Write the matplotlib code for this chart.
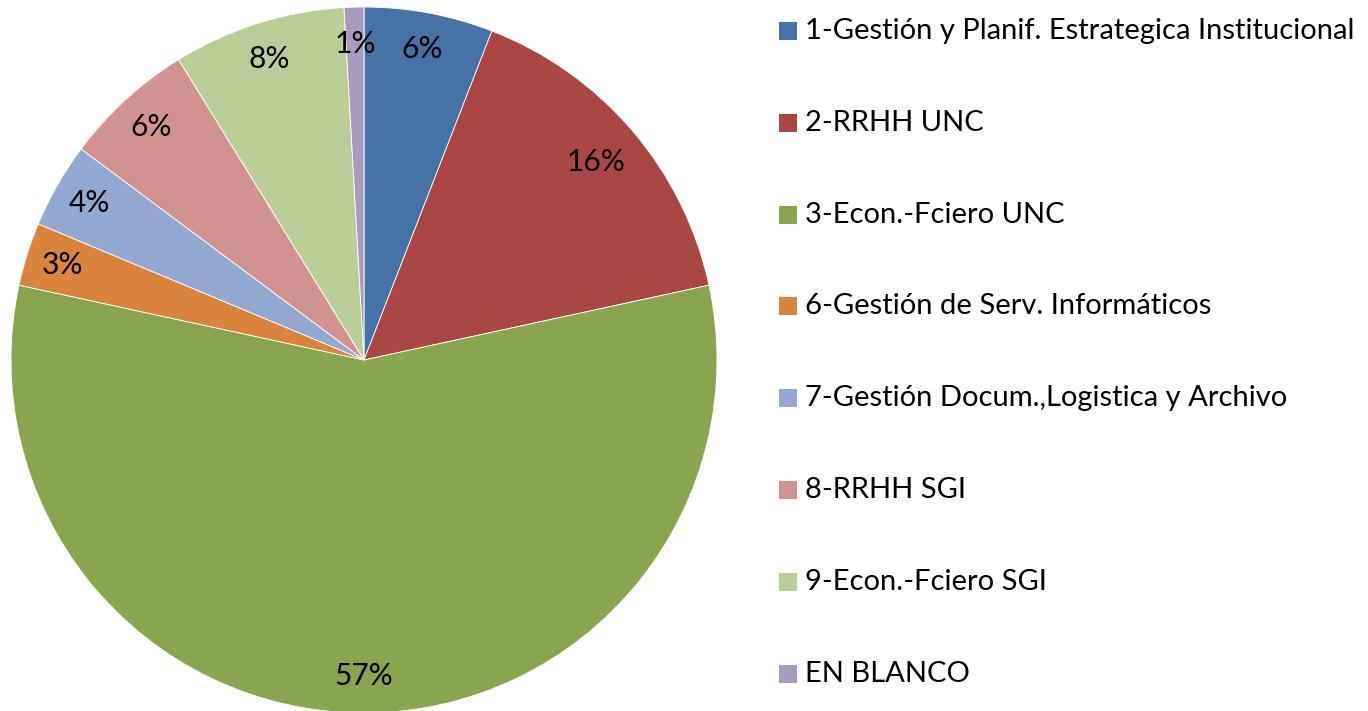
import matplotlib.pyplot as plt
from matplotlib.patches import Rectangle

# Shares (percent)
categories = [
    '1-Gestión y Planif. Estrategica Institucional',
    '2-RRHH UNC',
    '3-Econ.-Fciero UNC',
    '6-Gestión de Serv. Informáticos',
    '7-Gestión Docum.,Logistica y Archivo',
    '8-RRHH SGI',
    '9-Econ.-Fciero SGI',
    'EN BLANCO',
]
shares = [5.9, 15.7, 56.8, 2.9, 3.9, 6.0, 7.9, 0.9]
colors = ['#4572A7', '#AA4643', '#89A54E', '#DB843D',
          '#93A9CF', '#D19392', '#B9CD96', '#A99BBD']

plt.rcParams['font.family'] = ['Lato', 'DejaVu Sans']

W, H = 1368, 711
fig = plt.figure(figsize=(W / 100, H / 100), dpi=100)

cx, cy, r = 364, 360, 353
ax = fig.add_axes([(cx - r) / W, (H - cy - r) / H, 2 * r / W, 2 * r / H])
wedges, texts, autotexts = ax.pie(
    shares, colors=colors, startangle=90, counterclock=False,
    autopct=lambda p: f'{p:.0f}%', pctdistance=0.895,
    wedgeprops=dict(edgecolor='white', linewidth=0.6),
    textprops=dict(fontsize=21.5, color='black'))
# the wide diagonal label sits a bit further in
x, y = autotexts[1].get_position()
autotexts[1].set_position((x * 0.865 / 0.895, y * 0.865 / 0.895))
ax.set_xlim(-1, 1)
ax.set_ylim(-1, 1)
ax.set_aspect('equal')

# Legend drawn as a column of squares and labels
y0, step = 31, 91.8
for i, (lab, col) in enumerate(zip(categories, colors)):
    y = y0 + i * step
    fig.patches.append(Rectangle((779 / W, (H - y - 9) / H), 18 / W, 18 / H,
                                 transform=fig.transFigure, facecolor=col,
                                 edgecolor='none'))
    fig.text(805 / W, (H - y) / H, lab, fontsize=21, va='center', ha='left')

fig.savefig('out.png', dpi=100)
